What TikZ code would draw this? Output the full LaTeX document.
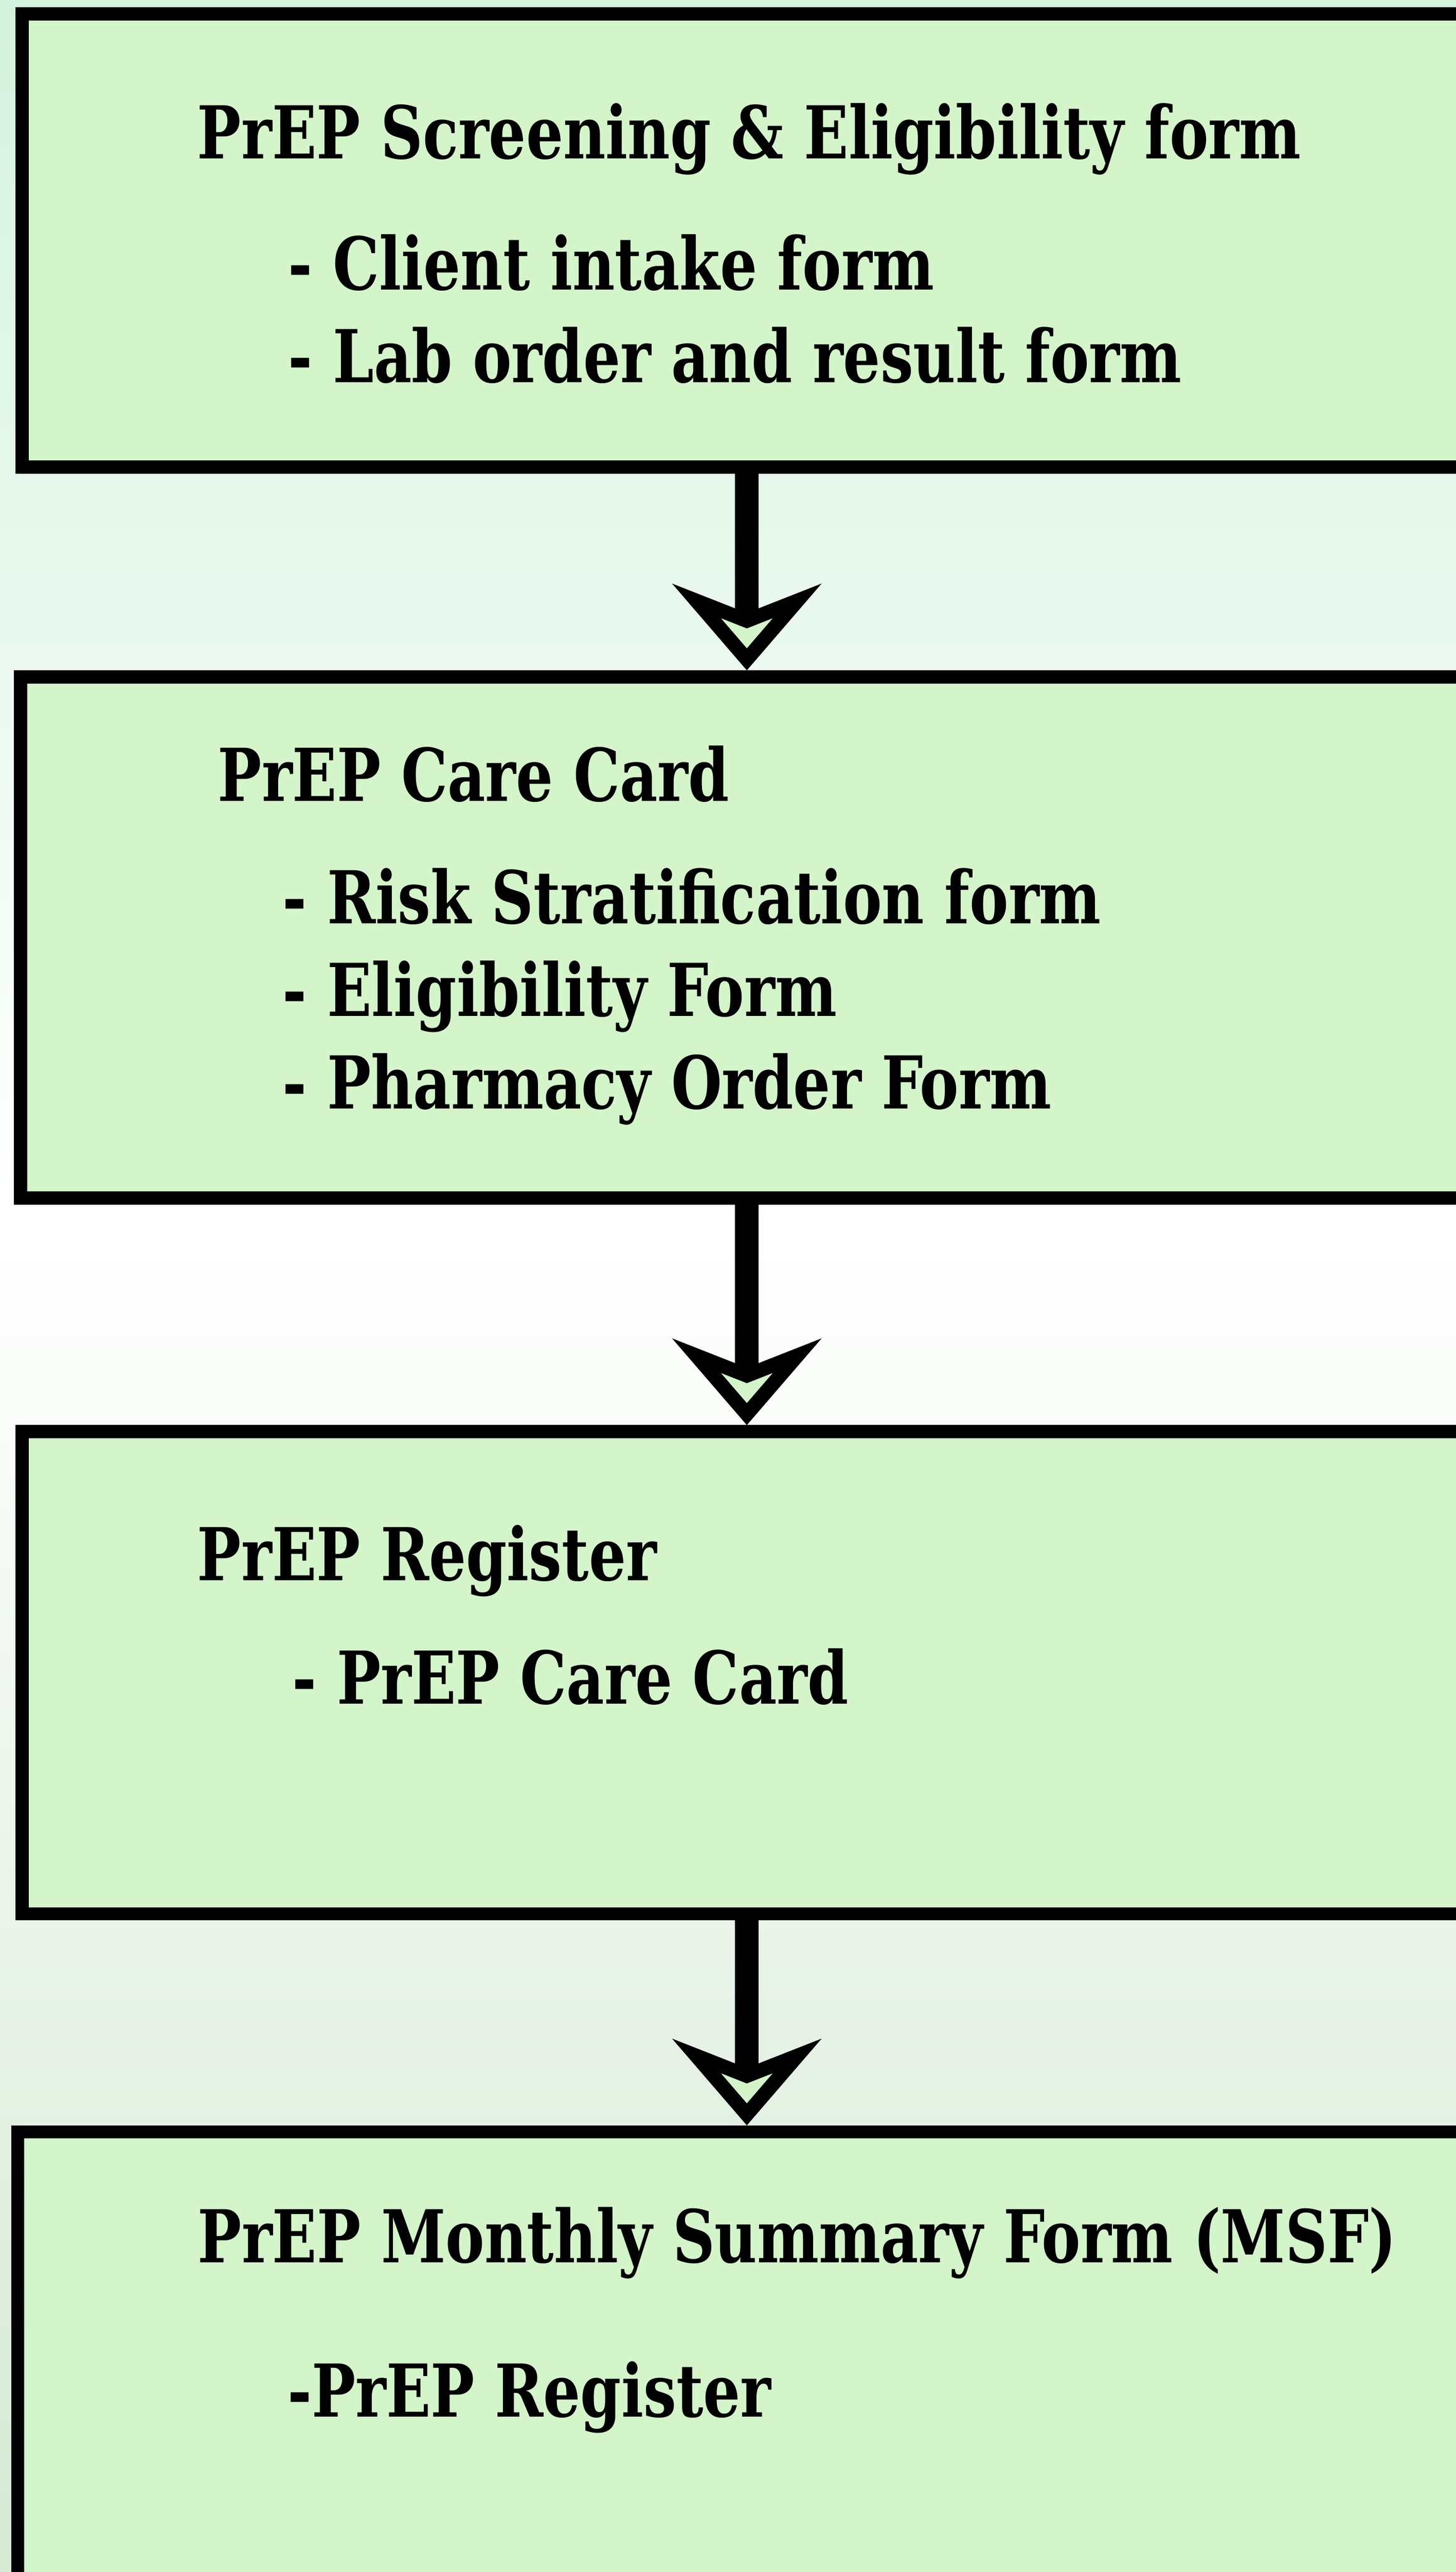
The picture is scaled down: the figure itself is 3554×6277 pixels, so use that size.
\documentclass[tikz,border=0pt]{standalone}
\usepackage{fontspec}
\setmainfont{DejaVu Serif}[FakeStretch=0.80]
\usetikzlibrary{arrows.meta}
\definecolor{boxgreen}{RGB}{211,245,201}
\definecolor{bgtop}{RGB}{212,242,222}
\definecolor{bgbot}{RGB}{214,233,212}
\tikzset{
	formbox/.style={draw=black, line width=3.2pt, fill=boxgreen, inner sep=0pt},
	title/.style={anchor=base west, inner sep=0pt, font=\bfseries\fontsize{17.8}{20}\selectfont},
	item/.style={title},
	flow/.style={line width=5.7pt, -{Stealth[open, fill=boxgreen, length=21pt, width=36pt, inset=7pt]}}
}
\begin{document}
\begin{tikzpicture}[x=0.1pt, y=-0.1pt]
	\useasboundingbox (0,0) rectangle (3554,6277);
	\clip (0,0) rectangle (3554,6277);
	\shade[top color=bgtop, bottom color=white] (0,0) rectangle (3554,3000);
	\shade[top color=white, bottom color=bgbot] (0,3000) rectangle (3554,6277);
	
	% the four forms
	\node[formbox, minimum width=356.6pt, minimum height=110.6pt] (screening) at (1837,587) {};
	\node[formbox, minimum width=357pt, minimum height=127.2pt] (carecard) at (1835,2288) {};
	\node[formbox, minimum width=356.6pt, minimum height=117.7pt] (register) at (1837,4082.5) {};
	\node[formbox, minimum width=357.7pt, minimum height=119.7pt] (msf) at (1831.5,5801.5) {};
	
	\coordinate (ax) at (1823,0);
	\draw[flow] (screening.south -| ax) -- (carecard.north -| ax);
	\draw[flow] (carecard.south -| ax) -- (register.north -| ax);
	\draw[flow] (register.south -| ax) -- (msf.north -| ax);
	
	\node[title] (screeningtitle) at (480,387) {PrEP Screening \& Eligibility form};
	\node[item] (intake) at (702,708) {- Client intake form};
	\node[item] (lab) at (702,934) {- Lab order and result form};
	
	\node[title] (carecardtitle) at (530,1955) {PrEP Care Card};
	\node[item] (risk) at (688,2254) {- Risk Stratification form};
	\node[item] (eligibility) at (688,2480) {- Eligibility Form};
	\node[item] (pharmacy) at (688,2706) {- Pharmacy Order Form};
	
	\node[title] (registertitle) at (480,3857) {PrEP Register};
	\node[item] (card) at (712,4159) {- PrEP Care Card};
	
	\node[title] (msftitle) at (481,5522) {PrEP Monthly Summary Form (MSF)};
	\node[item] (reg) at (700,5899) {-PrEP Register};
\end{tikzpicture}
\end{document}
